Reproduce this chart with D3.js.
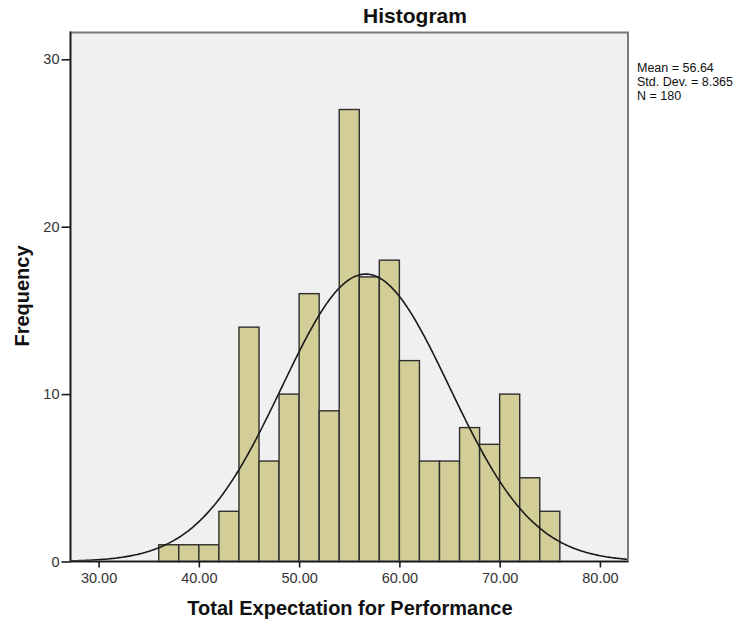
<!DOCTYPE html>
<html><head><meta charset="utf-8">
<script src="https://cdn.jsdelivr.net/npm/d3@7"></script>
<style>body{margin:0;background:#fff;}svg{display:block;font-family:"Liberation Sans",Arial,sans-serif;}</style>
</head><body>
<svg id="c" width="750" height="621"></svg>
<script>
const binStarts = [36,38,40,42,44,46,48,50,52,54,56,58,60,62,64,66,68,70,72,74];
const binWidth = 2;
const counts = [1,1,1,3,14,6,10,16,9,27,17,18,12,6,6,8,7,10,5,3];
const xTicks = [30,40,50,60,70,80];
const yTicks = [0,10,20,30];
const stats = {mean:56.64, sd:8.365, n:180};
const statLines = ["Mean = 56.64","Std. Dev. = 8.365","N = 180"];

const svg = d3.select("#c");
const L=70.5, R=628, T=32.5, B=561.5;
const x = d3.scaleLinear().domain([27.2,82.8]).range([L,R]);
const y = d3.scaleLinear().domain([0,31.6]).range([B,T]);

svg.append("rect").attr("x",L).attr("y",T).attr("width",R-L).attr("height",B-T).attr("fill","#f0f0f0");

const data = binStarts.map((s,i)=>({x0:s,x1:s+binWidth,c:counts[i]}));
svg.append("g").selectAll("rect").data(data).join("rect")
  .attr("x",d=>x(d.x0)).attr("y",d=>y(d.c))
  .attr("width",d=>x(d.x1)-x(d.x0)).attr("height",d=>y(0)-y(d.c))
  .attr("fill","#d3ce97").attr("stroke","#2e2e2e").attr("stroke-width",1.4);

// normal curve from stats
const pts = d3.range(0,401).map(i=>{const v=27.2+(82.8-27.2)*i/400;
  const p=Math.exp(-0.5*((v-stats.mean)/stats.sd)**2)/(stats.sd*Math.sqrt(2*Math.PI));
  return [v, stats.n*binWidth*p];});
svg.append("path").datum(pts).attr("fill","none").attr("stroke","#1a1a1a").attr("stroke-width",1.6)
  .attr("d",d3.line().x(d=>x(d[0])).y(d=>y(d[1])));

// frame
svg.append("rect").attr("x",L).attr("y",T).attr("width",R-L).attr("height",B-T).attr("fill","none").attr("stroke","#7a7a7a").attr("stroke-width",2);
svg.append("line").attr("x1",L).attr("x2",L).attr("y1",T-1).attr("y2",B).attr("stroke","#1a1a1a").attr("stroke-width",1.6);
svg.append("line").attr("x1",L).attr("x2",R).attr("y1",B).attr("y2",B).attr("stroke","#1a1a1a").attr("stroke-width",1.6);

const xa = svg.append("g").attr("transform",`translate(0,${B})`)
  .call(d3.axisBottom(x).tickValues(xTicks).tickFormat(d3.format(".2f")).tickSize(6).tickPadding(5).tickSizeOuter(0));
const ya = svg.append("g").attr("transform",`translate(${L},0)`)
  .call(d3.axisLeft(y).tickValues(yTicks).tickFormat(d3.format("d")).tickSize(9).tickPadding(2).tickSizeOuter(0));
[xa,ya].forEach(a=>{a.select(".domain").remove();
  a.selectAll("line").attr("stroke","#1a1a1a").attr("stroke-width",1.6);
  a.selectAll("text").attr("fill","#333").style("font-size","14.5px").style("font-family","'Liberation Sans',Arial,sans-serif");});

svg.append("text").attr("x",415).attr("y",23).attr("text-anchor","middle")
  .style("font-size","21px").style("font-weight","bold").attr("fill","#111").text("Histogram");
svg.append("text").attr("x",350).attr("y",615).attr("text-anchor","middle")
  .style("font-size","20px").style("font-weight","bold").attr("fill","#111").text("Total Expectation for Performance");
svg.append("text").attr("transform",`translate(29,296) rotate(-90)`).attr("text-anchor","middle")
  .style("font-size","20px").style("font-weight","bold").attr("fill","#111").text("Frequency");

svg.append("g").selectAll("text").data(statLines).join("text")
  .attr("x",637).attr("y",(d,i)=>72+i*14).style("font-size","12.5px").attr("fill","#111").text(d=>d);
</script>
</body></html>
